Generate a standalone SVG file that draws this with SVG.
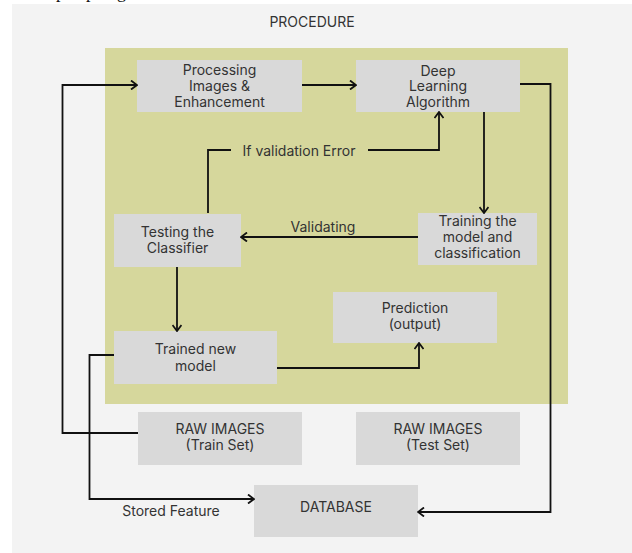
<svg xmlns="http://www.w3.org/2000/svg" width="632" height="553" viewBox="0 0 632 553">
<defs>
<style>
.box{fill:#d9d9d9}
.t{font-family:Inter,"Liberation Sans",sans-serif;font-size:14px;fill:#333333;text-anchor:middle}
.c{fill:none;stroke:#111;stroke-width:1.8}
</style>
<marker id="ah" viewBox="0 0 10 10" refX="9" refY="5" markerWidth="10" markerHeight="10" markerUnits="userSpaceOnUse" orient="auto">
<path d="M3,0.5 L9,5 L3,9.5" fill="none" stroke="#111" stroke-width="1.8"/>
</marker>
</defs>
<rect x="0" y="0" width="632" height="553" fill="#ffffff"/>
<text x="56" y="-2" font-family="'Liberation Serif',serif" font-size="18" fill="#111">p</text>
<text x="86" y="-2" font-family="'Liberation Serif',serif" font-size="18" fill="#111">p</text>
<text x="117" y="-2" font-family="'Liberation Serif',serif" font-size="18" fill="#111">g</text>
<rect x="12" y="4" width="620" height="549" fill="#f3f3f3"/>
<text class="t" x="312" y="27">PROCEDURE</text>
<rect x="105" y="48" width="463" height="356" fill="#d6d79c"/>

<g id="processing"><rect class="box" x="137" y="60" width="165" height="52"/>
<text class="t" x="219.5" y="75">Processing</text><text class="t" x="219.5" y="91">Images &amp;</text><text class="t" x="219.5" y="106.5">Enhancement</text></g>
<g id="deeplearning"><rect class="box" x="356" y="60" width="164" height="52"/>
<text class="t" x="438" y="75.5">Deep</text><text class="t" x="438" y="91">Learning</text><text class="t" x="438" y="106.5">Algorithm</text></g>
<g id="testing"><rect class="box" x="114" y="214" width="127" height="53"/>
<text class="t" x="177.5" y="237">Testing the</text><text class="t" x="177.5" y="252.5">Classifier</text></g>
<g id="training"><rect class="box" x="418" y="213" width="119" height="52"/>
<text class="t" x="477.5" y="226">Training the</text><text class="t" x="477.5" y="242">model and</text><text class="t" x="477.5" y="258">classification</text></g>
<g id="prediction"><rect class="box" x="333" y="292" width="164" height="51"/>
<text class="t" x="415" y="313">Prediction</text><text class="t" x="415" y="329">(output)</text></g>
<g id="trained"><rect class="box" x="114" y="331" width="163" height="53"/>
<text class="t" x="195.5" y="354">Trained new</text><text class="t" x="195.5" y="371">model</text></g>
<g id="rawtrain"><rect class="box" x="138" y="412" width="164" height="53"/>
<text class="t" x="220" y="434">RAW IMAGES</text><text class="t" x="220" y="450">(Train Set)</text></g>
<g id="rawtest"><rect class="box" x="356" y="412" width="164" height="53"/>
<text class="t" x="438" y="434">RAW IMAGES</text><text class="t" x="438" y="450">(Test Set)</text></g>
<g id="database"><rect class="box" x="254" y="485" width="164" height="52"/>
<text class="t" x="336" y="512">DATABASE</text></g>

<g id="connectors">
<path class="c" d="M138,433 H62.5 V85 H137" marker-end="url(#ah)"/>
<path class="c" d="M302,85 H356" marker-end="url(#ah)"/>
<path class="c" d="M520,84 H550.5 V512 H418" marker-end="url(#ah)"/>
<path class="c" d="M484,112 V213" marker-end="url(#ah)"/>
<path class="c" d="M208,213 V150 H231"/>
<path class="c" d="M368,150 H439 V112" marker-end="url(#ah)"/>
<text class="t" x="299" y="156">If validation Error</text>
<path class="c" d="M418,237 H241" marker-end="url(#ah)"/>
<text class="t" x="323" y="232">Validating</text>
<path class="c" d="M177,267 V331" marker-end="url(#ah)"/>
<path class="c" d="M277,368 H419 V343" marker-end="url(#ah)"/>
<path class="c" d="M114,355 H89.5 V499 H254" marker-end="url(#ah)"/>
<text class="t" x="171" y="516">Stored Feature</text>
</g>
</svg>
